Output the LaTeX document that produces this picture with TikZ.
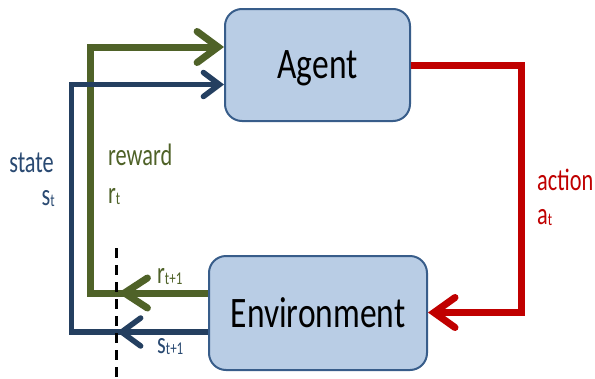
\documentclass[tikz,border=0pt]{standalone}
\usepackage{fontspec}
\setmainfont{Carlito}
\usetikzlibrary{arrows.meta}

\definecolor{boxfill}{HTML}{B9CDE5}
\definecolor{boxline}{HTML}{385D8A}
\definecolor{rewardgreen}{HTML}{4F6228}
\definecolor{statenavy}{HTML}{243F60}
\definecolor{actionred}{HTML}{C00000}
\definecolor{statetext}{HTML}{2A4A72}

% condensed lettering used for the block titles and the labels
\newcommand\narrowtext[1]{\scalebox{0.77}[1]{#1}}
\newcommand\narrowlbl[1]{\scalebox{0.72}[1]{#1}}
% a letter followed by its small index on nearly the same baseline
\newcommand\withsub[2]{#1{\fontsize{18}{18}\selectfont\raisebox{-1pt}{#2}}}

\begin{document}
\begin{tikzpicture}[x=1pt,y=-1pt,
  block/.style={draw=boxline, line width=2pt, fill=boxfill, rounded corners=17pt,
    inner sep=0pt, text depth=0pt, font=\fontsize{43.5}{43.5}\selectfont},
  lbl/.style={inner sep=0pt, font=\fontsize{31}{31}\selectfont},
  gline/.style={draw=rewardgreen, line width=7pt},
  bline/.style={draw=statenavy, line width=5.5pt},
  rline/.style={draw=actionred, line width=7pt},
  gtip/.style={-{Straight Barb[length=21pt, width=31pt, line cap=round]}},
  btip/.style={-{Straight Barb[length=16pt, width=24pt, line cap=round]}},
  gmidtip/.style={-{Straight Barb[length=23pt, width=30pt, line cap=round]}},
  bmidtip/.style={-{Straight Barb[length=19pt, width=28pt, line cap=round]}},
  rtip/.style={-{Straight Barb[length=21pt, width=30pt, line cap=round]}},
  cutline/.style={draw=black, line width=2.8pt, dash pattern=on 10pt off 7pt}]

\useasboundingbox (0,0) rectangle (595,378);
\fill[white] (0,0) rectangle (595,378);

% the two blocks
\node[block, minimum width=185pt, minimum height=112pt] (agent) at (317.5,65) {\narrowtext{Agent}};
\node[block, minimum width=218pt, minimum height=114pt] (env) at (318,313) {\narrowtext{Environment}};

% routing points of the loops
\coordinate (gtop) at (90.5,47);
\coordinate (gbot) at (90.5,293);
\coordinate (btop) at (71.5,84.5);
\coordinate (bbot) at (71.5,332);
\coordinate (rtop) at (521,65.5);
\coordinate (rbot) at (521,312.5);
\coordinate (gcut) at (118,293);
\coordinate (bcut) at (117,332);
\coordinate (cuttop) at (116.5,248);
\coordinate (cutbot) at (116.5,380);

% reward loop
\draw[gline, gtip] (env.west |- gbot) -- (gbot) -- (gtop) -- (agent.west |- gtop);
\draw[gline, gmidtip] (env.west |- gbot) -- (gcut);

% state loop
\draw[bline, btip] (env.west |- bbot) -- (bbot) -- (btop) -- (agent.west |- btop);
\draw[bline, bmidtip] (env.west |- bbot) -- (bcut);

% action path
\draw[rline, rtip] (agent.east |- rtop) -- (rtop) -- (rbot) -- (env.east |- rbot);

% time step boundary
\draw[cutline] (cuttop) -- (cutbot);

% labels
\node[lbl, anchor=base east, text=statetext] (statelbl) at (54,172) {\narrowlbl{state}};
\node[lbl, anchor=base east, text=statetext] (stlbl) at (55,205) {\narrowlbl{\withsub{s}{t}}};
\node[lbl, anchor=base west, text=rewardgreen] (rewardlbl) at (108,165) {\narrowlbl{reward}};
\node[lbl, anchor=base west, text=rewardgreen] (rtlbl) at (108,203) {\narrowlbl{\withsub{r}{t}}};
\node[lbl, anchor=base west, text=actionred] (actionlbl) at (537,190) {\narrowlbl{action}};
\node[lbl, anchor=base west, text=actionred] (atlbl) at (537,224) {\narrowlbl{\withsub{a}{t}}};
\node[lbl, anchor=base west, text=rewardgreen] (rnextlbl) at (157,283) {\narrowlbl{\withsub{r}{t+1}}};
\node[lbl, anchor=base west, text=statetext] (snextlbl) at (157,353) {\narrowlbl{\withsub{s}{t+1}}};
\end{tikzpicture}
\end{document}
